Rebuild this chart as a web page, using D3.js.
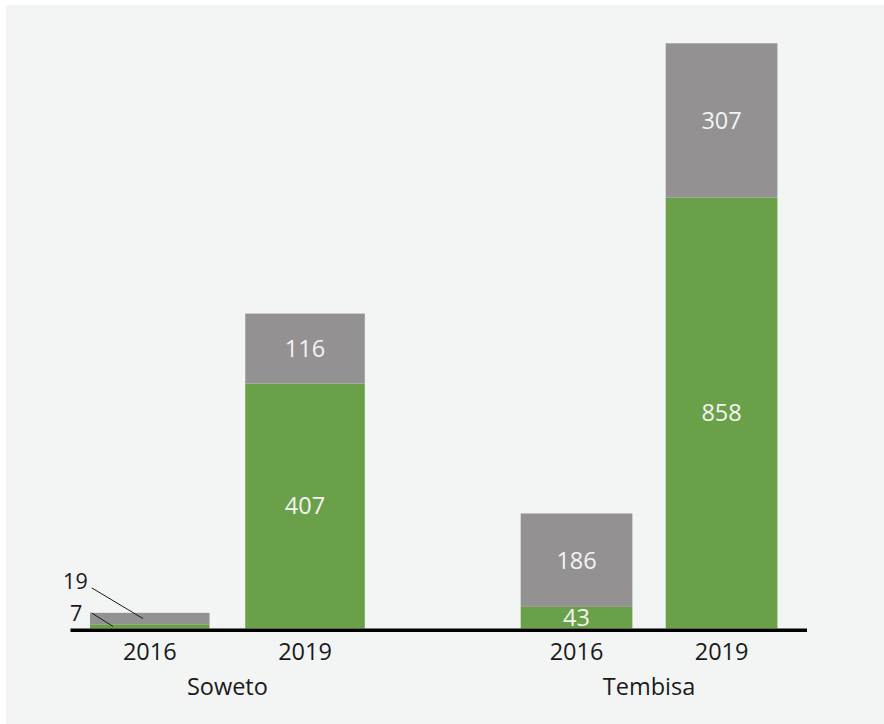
<!DOCTYPE html>
<html>
<head>
<meta charset="utf-8">
<script src="https://cdn.jsdelivr.net/npm/d3@7"></script>
<style>
  html, body { margin: 0; padding: 0; background: #ffffff; }
  svg { display: block; }
  text { font-family: "Open Sans", "Lato", sans-serif; }
</style>
</head>
<body>
<svg id="chart" width="884" height="724"></svg>
<script>
// Townships and survey years
const groups = ["Soweto", "Tembisa"];
const years = ["2016", "2019"];

// Lower (green) and upper (grey) stacked segments, per township, per year
const lowerValues = { Soweto: [7, 407], Tembisa: [43, 858] };
const upperValues = { Soweto: [19, 116], Tembisa: [186, 307] };

// Each township panel is drawn on its own value scale
const groupScaleMax = { Soweto: 972, Tembisa: 1165 };

const colors = { lower: "#6aa148", upper: "#939191" };

const svg = d3.select("#chart");

// light panel behind the chart
svg.append("rect")
  .attr("x", 6).attr("y", 5)
  .attr("width", 884 - 6).attr("height", 724 - 5)
  .attr("fill", "#f3f4f4");

const baseY = 628.5, topY = 43.3;
const groupRange = { Soweto: [90, 364.8], Tembisa: [520.7, 777.4] };

groups.forEach(g => {
  const x = d3.scaleBand().domain(years).range(groupRange[g]).paddingInner(0.23).paddingOuter(0);
  const y = d3.scaleLinear().domain([0, groupScaleMax[g]]).range([baseY, topY]);

  const rows = years.map((yr, i) => ({ year: yr, lower: lowerValues[g][i], upper: upperValues[g][i] }));
  const stack = d3.stack().keys(["lower", "upper"])(rows);

  const layer = svg.append("g");
  stack.forEach(series => {
    layer.selectAll(null)
      .data(series)
      .join("rect")
      .attr("x", d => x(d.data.year))
      .attr("width", x.bandwidth())
      .attr("y", d => y(d[1]))
      .attr("height", d => y(d[0]) - y(d[1]))
      .attr("fill", colors[series.key]);
  });

  // value labels: inside the segment when it is tall enough, otherwise a callout
  stack.forEach((series, si) => {
    series.forEach(d => {
      const v = d.data[series.key];
      const h = y(d[0]) - y(d[1]);
      const midY = (y(d[0]) + y(d[1])) / 2;
      const x0 = x(d.data.year);
      if (h >= 14) {
        svg.append("text")
          .attr("x", x0 + x.bandwidth() / 2)
          .attr("y", midY)
          .attr("dy", "0.36em")
          .attr("text-anchor", "middle")
          .attr("font-size", 23.5)
          .attr("fill", "#f4f4f4")
          .text(v);
      } else {
        const reach = si === 1 ? { dx: 53, rise: 30.7, tx: -4, ty: 1 } : { dx: 23, rise: 13.4, tx: -9.5, ty: 8.4 };
        const sx = x0 + 1.7, sy = midY - reach.rise;
        svg.append("line")
          .attr("x1", sx).attr("y1", sy)
          .attr("x2", x0 + reach.dx).attr("y2", midY)
          .attr("stroke", "#1a1a1a").attr("stroke-width", 1);
        svg.append("text")
          .attr("x", sx + reach.tx)
          .attr("y", sy + reach.ty)
          .attr("text-anchor", "end")
          .attr("font-size", 21.5)
          .attr("fill", "#1a1a1a")
          .text(v);
      }
    });
  });

  // year tick labels
  const axis = d3.axisBottom(x).tickSize(0).tickPadding(0);
  const ax = svg.append("g").attr("transform", `translate(0,${baseY})`).call(axis);
  ax.select(".domain").remove();
  ax.selectAll(".tick text")
    .attr("y", 31)
    .attr("dy", 0)
    .attr("font-size", 23.5)
    .attr("font-family", "\"Open Sans\", Lato, sans-serif")
    .attr("fill", "#1a1a1a");

  // township label
  svg.append("text")
    .attr("x", (groupRange[g][0] + groupRange[g][1]) / 2)
    .attr("y", 695)
    .attr("text-anchor", "middle")
    .attr("font-size", 23.5)
    .attr("fill", "#1a1a1a")
    .text(g);
});

// shared baseline
svg.append("line")
  .attr("x1", 70.5).attr("x2", 807)
  .attr("y1", 630.2).attr("y2", 630.2)
  .attr("stroke", "#000").attr("stroke-width", 3.6);
</script>
</body>
</html>
